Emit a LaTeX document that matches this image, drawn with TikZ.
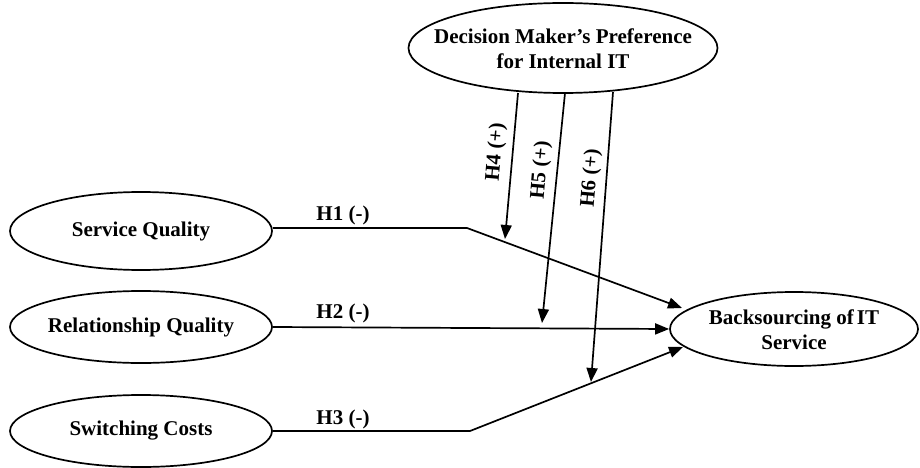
\documentclass[tikz,border=0pt]{standalone}
\usepackage{fontspec}
\setmainfont{Liberation Serif}
\usetikzlibrary{shapes.geometric,arrows.meta}
\begin{document}
\begin{tikzpicture}[x=1pt,y=-1pt,
  ell/.style={ellipse,draw,line width=1.7pt,inner sep=0pt},
  txt/.style={align=center,inner sep=0pt,
    font=\fontsize{21}{25}\selectfont\bfseries},
  arr/.style={line width=1.7pt,-{Triangle[length=14pt,width=11pt]}},
  lab/.style={font=\fontsize{21}{25}\selectfont\bfseries,inner sep=0pt}]
\useasboundingbox (0,0) rectangle (920,468);
\node[ell,minimum width=309,minimum height=90] (dm) at (563,48) {};
\node[txt] (dmt) at (563,49) {Decision Maker's Preference\\for Internal IT};
\node[ell,minimum width=262,minimum height=78] (sq) at (141,231) {};
\node[txt] (sqt) at (sq) {Service Quality};
\node[ell,minimum width=262,minimum height=72] (rq) at (141,327) {};
\node[txt] (rqt) at (rq) {Relationship Quality};
\node[ell,minimum width=262,minimum height=72] (sc) at (141,431) {};
\node[txt] (sct) at (sc) {Switching Costs};
\node[ell,minimum width=248,minimum height=74] (bo) at (794,329) {};
\node[txt] (bot) at (794,330) {Backsourcing of\hspace{3pt}IT\\Service};
% coordinates
\coordinate (b1) at (467,228);
\coordinate (e1) at (682,308);
\coordinate (b3) at (470,431);
\coordinate (e3) at (683,347);
\coordinate (s4) at (518,93);
\coordinate (t4) at (505,239);
\coordinate (s5) at (565,93);
\coordinate (t5) at (542,323);
\coordinate (s6) at (613,92);
\coordinate (t6) at (591,382);
% main paths
\draw[arr] (sq.east |- b1) -- (b1) -- (e1);
\draw[arr] (rq.east) -- (bo.west);
\draw[arr] (sc.east) -- (b3) -- (e3);
\draw[arr] (s4) -- (t4);
\draw[arr] (s5) -- (t5);
\draw[arr] (s6) -- (t6);
% labels
\node[lab] (l1) at (343,215) {H1 (-)};
\node[lab] (l2) at (343,313) {H2 (-)};
\node[lab] (l3) at (343,419) {H3 (-)};
\node[lab,rotate=85] (l4) at (496,152) {H4 (+)};
\node[lab,rotate=85] (l5) at (541,170) {H5 (+)};
\node[lab,rotate=85] (l6) at (591,178) {H6 (+)};
\end{tikzpicture}
\end{document}
